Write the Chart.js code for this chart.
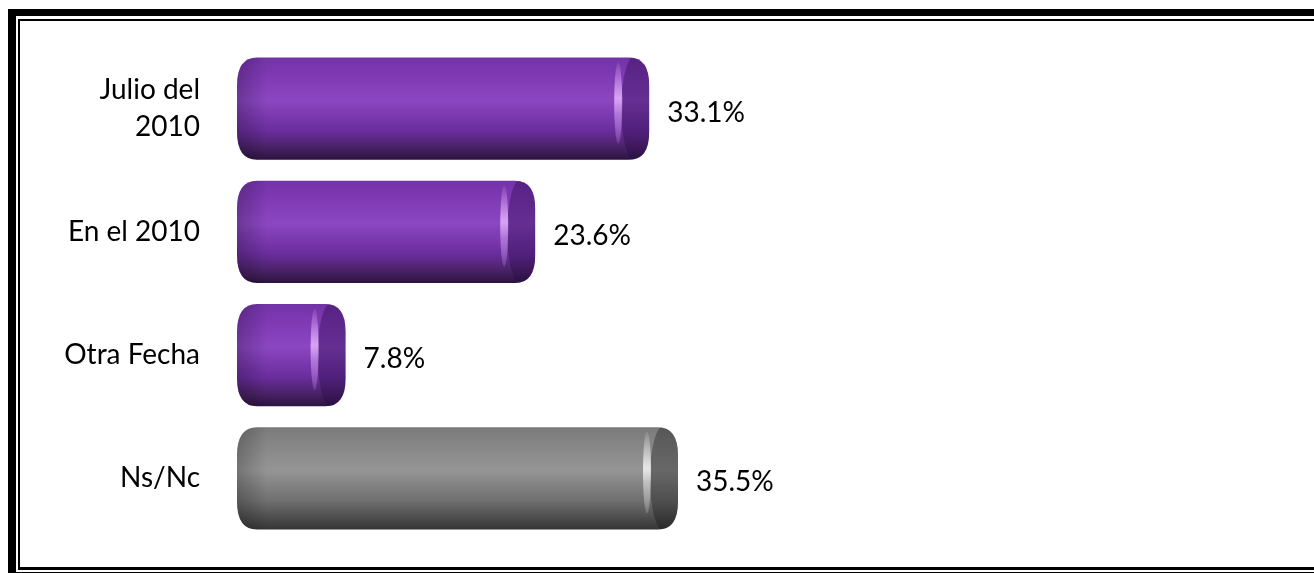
<!DOCTYPE html>
<html>
<head>
<meta charset="utf-8">
<script src="https://cdn.jsdelivr.net/npm/chart.js@4.4.1/dist/chart.umd.min.js"></script>
<style>
html, body { margin: 0; padding: 0; background: #fff; overflow: hidden; }
#wrap { position: relative; width: 1314px; height: 573px; overflow: hidden; }
.frameOuter { position: absolute; left: 8px; top: 9px; width: 1400px; height: 564px; box-sizing: border-box;
  border-left: 8px solid #000; border-top: 7px solid #000; border-bottom: 1px solid #000; }
.frameInner { position: absolute; left: 18px; top: 19px; width: 1400px; height: 551px; box-sizing: border-box;
  border-left: 2px solid #000; border-top: 2px solid #000; border-bottom: 3px solid #000; }
#chartBox { position: absolute; left: 0; top: 0; width: 1314px; height: 573px; }
</style>
</head>
<body>
<div id="wrap">
  <div class="frameOuter"></div>
  <div class="frameInner"></div>
  <div id="chartBox"><canvas id="fechaChart"></canvas></div>
</div>
<script>
// data
const categories = [['Julio del', '2010'], 'En el 2010', 'Otra Fecha', 'Ns/Nc'];
const percentValues = [33.1, 23.6, 7.8, 35.5];

// look
const LABEL_FONT = '28px Lato';
const CAP = 15;
const purpleShade = { stops: ['#7333a6', '#7d38b2', '#8b46c1', '#6a2d9c', '#45205f', '#2b1340'], cap: 'rgba(40,10,70,0.38)', glint: '230,180,255' };
const grayShade = { stops: ['#7a7a7a', '#858585', '#959595', '#6f6f6f', '#4a4a4a', '#353535'], cap: 'rgba(20,20,20,0.35)', glint: '245,245,245' };
const shades = percentValues.map((v, i) => i === 3 ? grayShade : purpleShade);

function cylPath(ctx, l, t, r, b, rx, ry) {
    ctx.beginPath();
    ctx.moveTo(l + rx, t);
    ctx.lineTo(r - rx, t);
    ctx.quadraticCurveTo(r, t, r, t + ry);
    ctx.lineTo(r, b - ry);
    ctx.quadraticCurveTo(r, b, r - rx, b);
    ctx.lineTo(l + rx, b);
    ctx.quadraticCurveTo(l, b, l, b - ry);
    ctx.lineTo(l, t + ry);
    ctx.quadraticCurveTo(l, t, l + rx, t);
    ctx.closePath();
}

// paints each bar element as a shaded cylinder and writes its value
const cylinderPlugin = {
    id: 'cylinders',
    afterDatasetsDraw(chart) {
        const ctx = chart.ctx;
        const meta = chart.getDatasetMeta(0);
        meta.data.forEach((bar, i) => {
            const p = bar.getProps(['x', 'y', 'base', 'height'], true);
            const s = shades[i];
            const t = p.y - p.height / 2, b = p.y + p.height / 2;
            const l = p.base - CAP, r = p.x;
            ctx.save();
            cylPath(ctx, l, t, r, b, 20, 28);
            const g = ctx.createLinearGradient(0, t, 0, b);
            [0, 0.15, 0.42, 0.72, 0.9, 1].forEach((o, k) => g.addColorStop(o, s.stops[k]));
            ctx.fillStyle = g;
            ctx.fill();
            ctx.clip();
            // left edge shading
            const lg = ctx.createLinearGradient(l, 0, l + 30, 0);
            lg.addColorStop(0, 'rgba(0,0,0,0.22)');
            lg.addColorStop(1, 'rgba(0,0,0,0)');
            ctx.fillStyle = lg;
            ctx.fillRect(l, t, 30, b - t);
            // right end face
            ctx.fillStyle = s.cap;
            ctx.beginPath();
            ctx.ellipse(r - 14, p.y, 14, p.height / 2 + 2, 0, 0, Math.PI * 2);
            ctx.rect(r - 14, t, 14, b - t);
            ctx.fill();
            // glint
            const gg = ctx.createLinearGradient(0, t, 0, b);
            gg.addColorStop(0, 'rgba(' + s.glint + ',0)');
            gg.addColorStop(0.4, 'rgba(' + s.glint + ',0.85)');
            gg.addColorStop(0.55, 'rgba(' + s.glint + ',0.5)');
            gg.addColorStop(1, 'rgba(' + s.glint + ',0)');
            ctx.fillStyle = gg;
            ctx.beginPath();
            ctx.ellipse(r - 31, p.y - 6, 4, p.height * 0.4, 0, 0, Math.PI * 2);
            ctx.fill();
            ctx.restore();

            // value label
            ctx.save();
            ctx.font = LABEL_FONT;
            ctx.fillStyle = '#000';
            ctx.textAlign = 'left';
            ctx.textBaseline = 'middle';
            ctx.fillText(percentValues[i].toFixed(1) + '%', r + 18, p.y + 4);
            ctx.restore();
        });
    }
};

const fechaCanvas = document.getElementById('fechaChart');

let configFecha = {
    type: 'bar',
    data: {
        labels: categories,
        datasets: [{
            data: percentValues,
            backgroundColor: 'rgba(0,0,0,0)',
            borderWidth: 0,
            categoryPercentage: 1,
            barPercentage: 0.83,
        }],
    },
    options: {
        indexAxis: 'y',
        responsive: true,
        maintainAspectRatio: false,
        animation: false,
        layout: { padding: { left: 0, right: 582, top: 47, bottom: 33 } },
        plugins: { legend: { display: false }, tooltip: { enabled: false } },
        scales: {
            x: { display: false, min: 0, max: 40 },
            y: {
                grid: { display: false, drawTicks: false },
                border: { display: false },
                ticks: { color: '#000', font: { family: 'Lato', size: 28, lineHeight: 1.32 }, padding: 52 },
                afterFit(scale) {
                    scale.width = 252;
                    scale.paddingTop = 0;
                    scale.paddingBottom = 0;
                },
            },
        },
    },
    plugins: [cylinderPlugin],
};
const fechaChart = new Chart(fechaCanvas, configFecha);
</script>
</body>
</html>
